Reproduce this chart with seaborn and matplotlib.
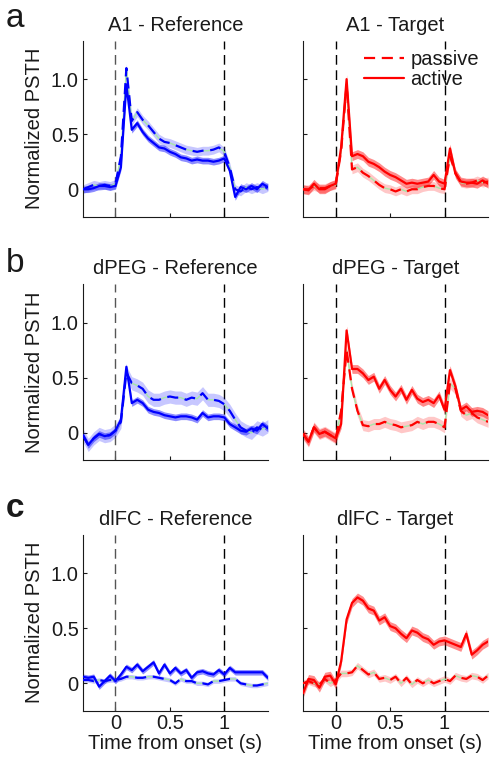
import numpy as np
import matplotlib
matplotlib.use("Agg")
import matplotlib.pyplot as plt
import seaborn as sns

# ===============================
# DATA
# ===============================
time_s = [-0.3, -0.25, -0.2, -0.15, -0.1, -0.05, 0.0, 0.05, 0.1, 0.15, 0.2, 0.25,
          0.3, 0.35, 0.4, 0.45, 0.5, 0.55, 0.6, 0.65, 0.7, 0.75, 0.8, 0.85, 0.9,
          0.95, 1.0, 1.05, 1.1, 1.15, 1.2, 1.25, 1.3, 1.35, 1.4]

a1_ref_active = [0.0, 0.0, 0.01, 0.03, 0.03, 0.02, 0.03, 0.2, 0.95, 0.54, 0.6, 0.52,
                 0.46, 0.42, 0.38, 0.37, 0.34, 0.32, 0.29, 0.28, 0.26, 0.27, 0.26, 0.26,
                 0.25, 0.26, 0.28, 0.17, -0.07, 0.02, 0.0, 0.03, 0.0, 0.05, 0.02]
a1_ref_passive = [0.0, 0.02, 0.04, 0.03, 0.04, 0.03, 0.05, 0.3, 1.1, 0.62, 0.7, 0.63,
                  0.58, 0.52, 0.46, 0.43, 0.42, 0.4, 0.38, 0.36, 0.35, 0.34, 0.35, 0.35,
                  0.36, 0.38, 0.34, 0.2, 0.0, -0.02, 0.02, 0.0, 0.02, 0.0, 0.02]
a1_tgt_active = [0.0, -0.01, 0.05, 0.0, 0.0, 0.03, 0.05, 0.38, 1.0, 0.3, 0.32, 0.3,
                 0.25, 0.23, 0.2, 0.16, 0.13, 0.11, 0.08, 0.05, 0.06, 0.05, 0.06, 0.07,
                 0.13, 0.07, 0.05, 0.37, 0.14, 0.07, 0.06, 0.06, 0.05, 0.08, 0.05]
a1_tgt_passive = [0.0, 0.0, 0.03, 0.01, 0.01, 0.03, 0.04, 0.35, 0.95, 0.18, 0.2, 0.15,
                  0.12, 0.08, 0.04, 0.01, 0.0, -0.02, 0.0, -0.02, 0.0, 0.0, 0.02, 0.03,
                  0.03, 0.01, 0.0, 0.3, 0.15, 0.06, 0.05, 0.06, 0.08, 0.06, 0.07]

dpeg_ref_active = [-0.02, -0.11, -0.05, -0.01, -0.03, -0.02, 0.02, 0.12, 0.6, 0.27, 0.3, 0.27,
                   0.21, 0.19, 0.18, 0.16, 0.15, 0.14, 0.15, 0.15, 0.14, 0.12, 0.18, 0.14,
                   0.15, 0.15, 0.14, 0.08, 0.05, 0.02, 0.01, 0.04, 0.02, 0.08, 0.04]
dpeg_ref_passive = [-0.02, -0.11, -0.05, -0.01, -0.03, -0.02, 0.02, 0.1, 0.55, 0.45, 0.43, 0.4,
                    0.33, 0.3, 0.3, 0.32, 0.33, 0.32, 0.32, 0.3, 0.32, 0.31, 0.36, 0.3,
                    0.3, 0.29, 0.26, 0.2, 0.12, 0.05, 0.02, 0.0, 0.05, 0.03, 0.06]
dpeg_tgt_active = [-0.01, -0.08, 0.05, -0.01, 0.01, -0.02, -0.05, 0.08, 0.93, 0.58, 0.58, 0.54,
                   0.48, 0.51, 0.4, 0.48, 0.39, 0.33, 0.4, 0.3, 0.39, 0.31, 0.28, 0.3,
                   0.27, 0.34, 0.21, 0.57, 0.42, 0.21, 0.24, 0.19, 0.2, 0.19, 0.16]
dpeg_tgt_passive = [-0.01, -0.08, 0.05, -0.01, 0.01, -0.02, -0.05, 0.2, 0.75, 0.4, 0.2, 0.07,
                    0.06, 0.08, 0.08, 0.1, 0.08, 0.07, 0.05, 0.06, 0.07, 0.1, 0.08, 0.1,
                    0.1, 0.08, 0.05, 0.45, 0.4, 0.2, 0.16, 0.18, 0.14, 0.12, 0.1]

dlfc_ref_active = [0.06, 0.05, 0.06, -0.03, 0.02, 0.07, 0.02, 0.08, 0.15, 0.12, 0.17, 0.11,
                   0.15, 0.19, 0.09, 0.17, 0.09, 0.14, 0.09, 0.12, 0.05, 0.1, 0.11, 0.09,
                   0.08, 0.12, 0.08, 0.14, 0.1, 0.1, 0.1, 0.1, 0.1, 0.1, 0.05]
dlfc_ref_passive = [0.03, 0.03, 0.02, 0.03, 0.02, 0.03, 0.03, 0.04, 0.06, 0.06, 0.05, 0.05,
                    0.06, 0.06, 0.05, 0.04, 0.03, 0.0, 0.04, 0.02, 0.02, 0.0, 0.0, -0.01,
                    0.02, 0.02, 0.03, 0.04, 0.04, 0.0, -0.01, -0.02, -0.02, -0.01, 0.0]
dlfc_tgt_active = [-0.09, 0.04, 0.03, -0.04, 0.06, 0.07, -0.01, 0.2, 0.58, 0.73, 0.78, 0.75,
                   0.68, 0.66, 0.57, 0.6, 0.52, 0.5, 0.45, 0.41, 0.48, 0.46, 0.42, 0.4,
                   0.35, 0.38, 0.39, 0.37, 0.35, 0.33, 0.45, 0.26, 0.3, 0.35, 0.38]
dlfc_tgt_passive = [0.0, 0.02, 0.0, -0.01, 0.04, 0.0, 0.03, 0.09, 0.09, 0.1, 0.16, 0.12,
                    0.08, 0.1, 0.04, 0.05, 0.03, 0.06, 0.0, 0.05, -0.01, 0.03, 0.0, 0.03,
                    0.0, 0.02, 0.04, 0.02, 0.07, 0.05, 0.04, 0.07, 0.06, 0.03, 0.07]

# half-width of the shaded error band (s.e.m.) per series: (active, passive)
a1_ref_sem = (0.03, 0.04)
a1_tgt_sem = (0.04, 0.04)
dpeg_ref_sem = (0.03, 0.06)
dpeg_tgt_sem = (0.04, 0.05)
dlfc_ref_sem = (0.025, 0.02)
dlfc_tgt_sem = (0.04, 0.03)

areas = ["A1", "dPEG", "dlFC"]
panel_letters = ["a", "b", "c"]
conditions = ["Reference", "Target"]
y_ticks = [0, 0.5, 1.0]
y_ticklabels = ["0", "0.5", "1.0"]
x_ticks = [0, 0.5, 1]
x_ticklabels = ["0", "0.5", "1"]

panels = {
    ("A1", "Reference"): (a1_ref_active, a1_ref_passive, a1_ref_sem),
    ("A1", "Target"): (a1_tgt_active, a1_tgt_passive, a1_tgt_sem),
    ("dPEG", "Reference"): (dpeg_ref_active, dpeg_ref_passive, dpeg_ref_sem),
    ("dPEG", "Target"): (dpeg_tgt_active, dpeg_tgt_passive, dpeg_tgt_sem),
    ("dlFC", "Reference"): (dlfc_ref_active, dlfc_ref_passive, dlfc_ref_sem),
    ("dlFC", "Target"): (dlfc_tgt_active, dlfc_tgt_passive, dlfc_tgt_sem),
}

# ===============================
# STYLE
# ===============================
sns.set_style("ticks")
plt.rcParams['font.family'] = ['Liberation Sans', 'DejaVu Sans']
plt.rcParams['font.size'] = 14.5
plt.rcParams['axes.linewidth'] = 0.8
plt.rcParams['xtick.direction'] = 'in'
plt.rcParams['ytick.direction'] = 'in'
for key in ['text.color', 'axes.labelcolor', 'axes.edgecolor',
            'xtick.color', 'ytick.color']:
    plt.rcParams[key] = '#1a1a1a'

line_colors = {"Reference": "#0000ff", "Target": "#ff0000"}
band_alpha = {"active": 0.45, "passive": 0.22}

fig = plt.figure(figsize=(4.96, 7.66), dpi=100)

col_x = [0.167, 0.611]
row_y = [0.717, 0.399, 0.072]
ax_w, ax_h = 0.373, 0.230
letter_y = [0.965, 0.645, 0.325]

t = np.array(time_s)

for r, area in enumerate(areas):
    for c, cond in enumerate(conditions):
        ax = fig.add_axes([col_x[c], row_y[r], ax_w, ax_h])
        active, passive, sem = panels[(area, cond)]
        active = np.array(active)
        passive = np.array(passive)
        col = line_colors[cond]

        # stimulus onset / offset
        ax.axvline(0, color="#555555" if c == 0 else "black", lw=1,
                   linestyle=(0, (7, 4)), zorder=1)
        ax.axvline(1, color="black", lw=1, linestyle=(0, (7, 4)), zorder=1)

        ax.fill_between(t, passive - sem[1], passive + sem[1], color=col,
                        alpha=band_alpha["passive"], lw=0, zorder=2)
        ax.fill_between(t, active - sem[0], active + sem[0], color=col,
                        alpha=band_alpha["active"], lw=0, zorder=2)
        ax.plot(t, passive, color="#a8e6a8", lw=1, zorder=3)

        sns.lineplot(x=t, y=passive, ax=ax, color=col, lw=1.6,
                     linestyle=(0, (5, 3)), label="passive", zorder=4)
        sns.lineplot(x=t, y=active, ax=ax, color=col, lw=1.6,
                     label="active", zorder=5)

        ax.set_xlim(-0.3, 1.4)
        ax.set_ylim(-0.25, 1.35)
        ax.set_yticks(y_ticks)
        ax.set_xticks(x_ticks)
        ax.tick_params(length=3, width=0.8, pad=3)
        ax.tick_params(axis='x', pad=2)
        sns.despine(ax=ax)

        if c == 0:
            ax.set_yticklabels(y_ticklabels)
            ax.set_ylabel("Normalized PSTH", labelpad=5)
        else:
            ax.set_yticklabels([])
            ax.set_ylabel("")
        if r == 2:
            ax.set_xticklabels(x_ticklabels)
            ax.set_xlabel("Time from onset (s)", labelpad=1)
        else:
            ax.set_xticklabels([])
            ax.set_xlabel("")

        ax.set_title(f"{area} - {cond}", fontsize=14.5, pad=7)

        if r == 0 and c == 1:
            ax.legend(loc="upper right", frameon=False, handlelength=2.0,
                      handletextpad=0.3, labelspacing=0.05, borderaxespad=0.0,
                      borderpad=0.45, fontsize=14.5)
        else:
            leg = ax.get_legend()
            if leg is not None:
                leg.remove()

    fig.text(0.012, letter_y[r], panel_letters[r], fontsize=24,
             fontweight="bold" if r == 2 else "normal", va="baseline")

fig.savefig("out.png", dpi=100)
plt.close(fig)
